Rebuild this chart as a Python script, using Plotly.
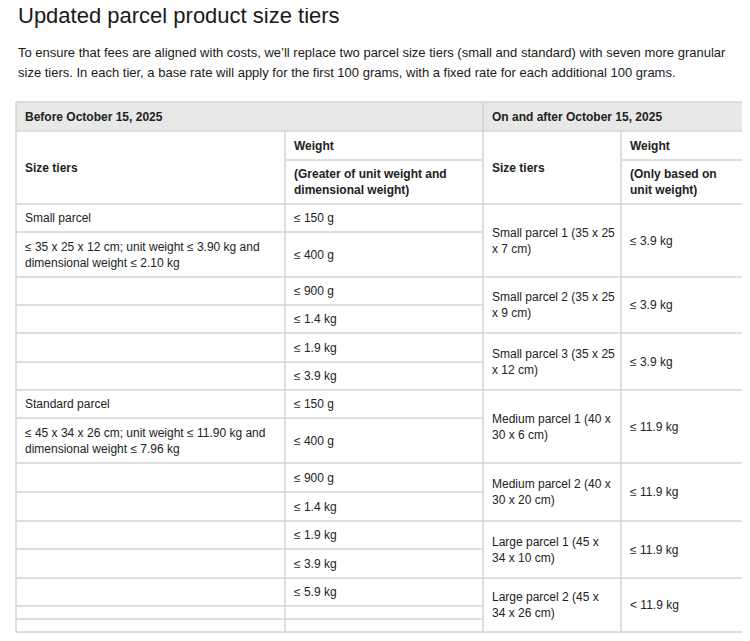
import plotly.graph_objects as go

title = "Updated parcel product size tiers"
intro = ["To ensure that fees are aligned with costs, we\u2019ll replace two parcel size tiers (small and standard) with seven more granular",
         "size tiers. In each tier, a base rate will apply for the first 100 grams, with a fixed rate for each additional 100 grams."]
group_headers = ["Before October 15, 2025", "On and after October 15, 2025"]
col_headers = ["Size tiers", "Weight", "(Greater of unit weight and<br>dimensional weight)", "Size tiers", "Weight", "(Only based on<br>unit weight)"]

old_tiers = ["Small parcel", "\u2264 35 x 25 x 12 cm; unit weight \u2264 3.90 kg and<br>dimensional weight \u2264 2.10 kg", "", "", "", "",
             "Standard parcel", "\u2264 45 x 34 x 26 cm; unit weight \u2264 11.90 kg and<br>dimensional weight \u2264 7.96 kg", "", "", "", "", "", "", ""]
old_weights = ["\u2264 150 g", "\u2264 400 g", "\u2264 900 g", "\u2264 1.4 kg", "\u2264 1.9 kg", "\u2264 3.9 kg",
               "\u2264 150 g", "\u2264 400 g", "\u2264 900 g", "\u2264 1.4 kg", "\u2264 1.9 kg", "\u2264 3.9 kg", "\u2264 5.9 kg", "", ""]
new_tiers = ["Small parcel 1 (35 x 25<br>x 7 cm)", "Small parcel 2 (35 x 25<br>x 9 cm)", "Small parcel 3 (35 x 25<br>x 12 cm)",
             "Medium parcel 1 (40 x<br>30 x 6 cm)", "Medium parcel 2 (40 x<br>30 x 20 cm)", "Large parcel 1 (45 x<br>34 x 10 cm)",
             "Large parcel 2 (45 x<br>34 x 26 cm)"]
new_weights = ["\u2264 3.9 kg", "\u2264 3.9 kg", "\u2264 3.9 kg", "\u2264 11.9 kg", "\u2264 11.9 kg", "\u2264 11.9 kg", "< 11.9 kg"]

# layout geometry (pixel space)
cols = [16, 285, 483, 621, 743]
left_rows = [204, 232, 277, 305, 333, 362, 390, 418, 463, 492, 521, 549, 578, 606, 619, 632]
right_rows = [204, 277, 333, 390, 463, 521, 578, 632]
top, hdr1, hdr_mid, hdr_bot = 102, 131, 160, 204

LC = "#d4d4d4"
TXT = "#222222"
F = "Liberation Sans, Arial, sans-serif"
FS = 12
shapes = []
ann = []

def line(x0, y0, x1, y1):
    shapes.append(dict(type="line", x0=x0, y0=y0, x1=x1, y1=y1, line=dict(color=LC, width=1.5)))

def text(x, y, t, bold=False, size=FS):
    ann.append(dict(x=x, y=y, text=f"<b>{t}</b>" if bold else t, xanchor="left", yanchor="middle",
                    showarrow=False, align="left", font=dict(family=F, size=size, color=TXT)))

shapes.append(dict(type="rect", x0=cols[0], y0=top, x1=cols[-1], y1=hdr1, fillcolor="#e8e8e8", line=dict(width=0), layer="below"))
line(cols[0], top, cols[-1], top); line(cols[0], hdr1, cols[-1], hdr1)
line(cols[0], top, cols[0], left_rows[-1]); line(cols[-1], top, cols[-1], right_rows[-1])
line(cols[2], top, cols[2], left_rows[-1])
line(cols[1], hdr1, cols[1], left_rows[-1]); line(cols[3], hdr1, cols[3], right_rows[-1])
line(cols[1], hdr_mid, cols[2], hdr_mid); line(cols[3], hdr_mid, cols[4], hdr_mid)
for y in left_rows:
    line(cols[0], y, cols[2], y)
for y in right_rows:
    line(cols[2], y, cols[4], y)

text(cols[0] + 7, (top + hdr1) / 2, group_headers[0], bold=True)
text(cols[2] + 7, (top + hdr1) / 2, group_headers[1], bold=True)
text(cols[0] + 7, (hdr1 + hdr_bot) / 2, col_headers[0], bold=True)
text(cols[1] + 7, (hdr1 + hdr_mid) / 2, col_headers[1], bold=True)
text(cols[1] + 7, (hdr_mid + hdr_bot) / 2, col_headers[2], bold=True)
text(cols[2] + 7, (hdr1 + hdr_bot) / 2, col_headers[3], bold=True)
text(cols[3] + 7, (hdr1 + hdr_mid) / 2, col_headers[4], bold=True)
text(cols[3] + 7, (hdr_mid + hdr_bot) / 2, col_headers[5], bold=True)

for i in range(len(old_tiers)):
    yc = (left_rows[i] + left_rows[i + 1]) / 2
    if old_tiers[i]:
        text(cols[0] + 7, yc, old_tiers[i])
    if old_weights[i]:
        text(cols[1] + 7, yc, old_weights[i])
for i in range(len(new_tiers)):
    yc = (right_rows[i] + right_rows[i + 1]) / 2
    text(cols[2] + 7, yc, new_tiers[i])
    text(cols[3] + 7, yc, new_weights[i])

ann.append(dict(x=16, y=15, text=title, xanchor="left", yanchor="middle", showarrow=False,
                font=dict(family=F, size=22, color="#1a1a1a")))
for j, l in enumerate(intro):
    ann.append(dict(x=16, y=52 + 20 * j, text=l, xanchor="left", yanchor="middle", showarrow=False,
                    font=dict(family=F, size=13, color="#1a1a1a")))

fig = go.Figure()
fig.add_trace(go.Scatter(x=[8, 750], y=[8, 641], mode="markers", marker=dict(opacity=0), hoverinfo="skip"))
fig.update_layout(width=750, height=641, margin=dict(l=0, r=0, t=0, b=0), showlegend=False,
                  paper_bgcolor="white", plot_bgcolor="white", shapes=shapes, annotations=ann,
                  xaxis=dict(range=[8, 758], visible=False, fixedrange=True),
                  yaxis=dict(range=[649, 8], visible=False, fixedrange=True))
fig.write_html("out.html", config={"displayModeBar": False})
